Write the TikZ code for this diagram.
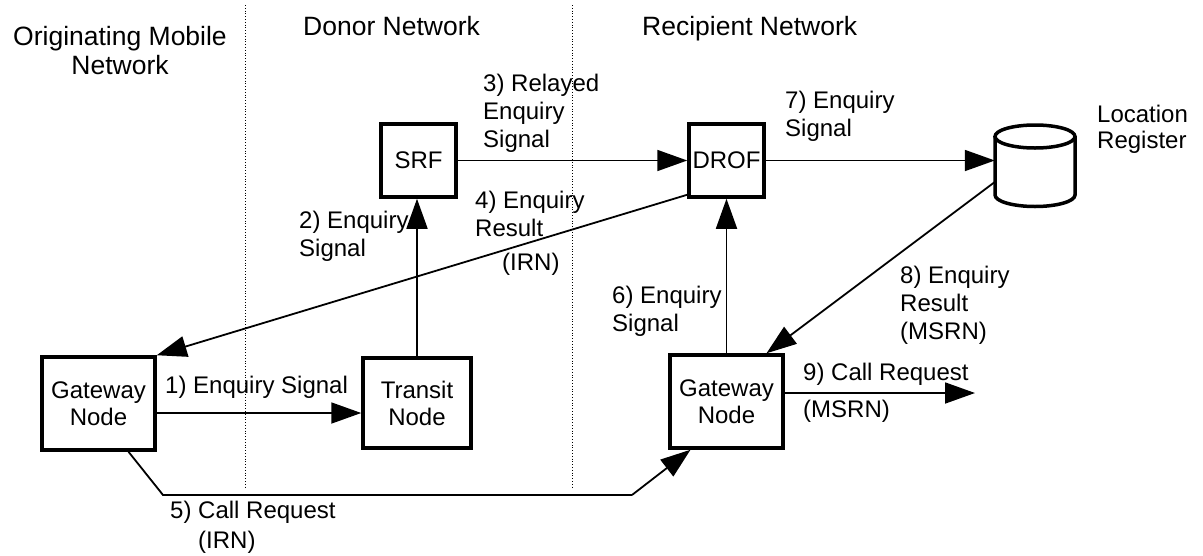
\documentclass[tikz,border=0pt]{standalone}
\usepackage{fontspec}
\setmainfont{Liberation Sans}
\usetikzlibrary{arrows.meta}
\begin{document}
\begin{tikzpicture}[x=1pt,y=-1pt,
  box/.style={draw,line width=3.5pt,inner sep=0pt,align=center,font=\fontsize{24}{27}\selectfont},
  arr/.style={line width=1.8pt,-{Triangle[length=30pt,width=21pt]}},
  lbl/.style={anchor=north west,inner sep=0pt,align=left,font=\fontsize{24}{28}\selectfont},
  hdr/.style={inner sep=0pt,font=\fontsize{26.5}{29}\selectfont},
  sepline/.style={line width=0.8pt,dotted}]
\useasboundingbox (0,0) rectangle (1203,555);
% network separators
\draw[sepline] (245,5) -- (245,488);
\draw[sepline] (572,5) -- (572,488);
% headers
\node[hdr,anchor=north,align=center] (h1) at (120,26) {Originating Mobile\\Network};
\node[hdr,anchor=base west] (h2) at (303,35) {Donor Network};
\node[hdr,anchor=base west] (h3) at (642,35) {Recipient Network};
% boxes
\node[box,minimum width=113,minimum height=93] (gl) at (98.5,403.5) {Gateway\\Node};
\node[box,minimum width=108,minimum height=90] (tr) at (417,403) {Transit\\Node};
\node[box,minimum width=75,minimum height=73] (srf) at (418.5,160.5) {SRF};
\node[box,minimum width=75,minimum height=73] (drof) at (726.5,160.5) {DROF};
\node[box,minimum width=113,minimum height=93] (gr) at (726.5,401.5) {Gateway\\Node};
% location register (cylinder)
\node[minimum width=80,minimum height=82,inner sep=0pt] (lr) at (1035,166) {};
\draw[line width=3.5pt] (995,136.5) -- (995,195) arc[start angle=180,end angle=0,x radius=40,y radius=11.5] -- (1075,136.5);
\draw[line width=3.5pt] (1035,136.5) ellipse[x radius=40,y radius=11.5];
% connectors
\draw[arr] (gl.east |- 0,413) -- (tr.west |- 0,413);
\draw[arr] (tr.north) -- (tr.north |- srf.south);
\draw[arr] (srf.east) -- (drof.west);
\draw[arr] ([yshift=4pt]drof.south west) -- (gl.north east);
\coordinate (c5a) at (163,495);
\coordinate (c5b) at (632,495);
\draw[line width=1.8pt] ([xshift=30pt]gl.south) -- (c5a) -- (c5b);
\draw[arr] (c5b) -- ([xshift=-36pt]gr.south);
\draw[arr] (gr.north) -- (drof.south);
\draw[arr] (drof.east) -- (lr.west |- drof.east);
\draw[arr] (lr.west |- 0,182) -- ([xshift=40pt]gr.north);
\coordinate (c9) at (975,393);
\draw[arr] (gr.east |- c9) -- (c9);
% labels
\node[lbl] (l1) at (165,375.5) {1) Enquiry Signal};
\node[lbl] (l2) at (299,210.5) {2) Enquiry\\Signal};
\node[lbl] (l3) at (483,73.5) {3) Relayed\\Enquiry\\Signal};
\node[lbl] (l4) at (475,190.5) {4) Enquiry\\Result};
\node[lbl] (l4b) at (502,252.5) {(IRN)};
\node[lbl] (l5) at (170,500.5) {5) Call Request};
\node[lbl] (l5b) at (198,530.5) {(IRN)};
\node[lbl] (l6) at (612,285.5) {6) Enquiry\\Signal};
\node[lbl] (l7) at (785,90.5) {7) Enquiry\\Signal};
\node[lbl] (l8) at (900,265.5) {8) Enquiry\\Result\\(MSRN)};
\node[lbl] (l9) at (803,362.5) {9) Call Request};
\node[lbl] (l9b) at (803,399.5) {(MSRN)};
\node[lbl,font=\fontsize{24}{26}\selectfont] (llr) at (1097,104.5) {Location\\Register};
\end{tikzpicture}
\end{document}
